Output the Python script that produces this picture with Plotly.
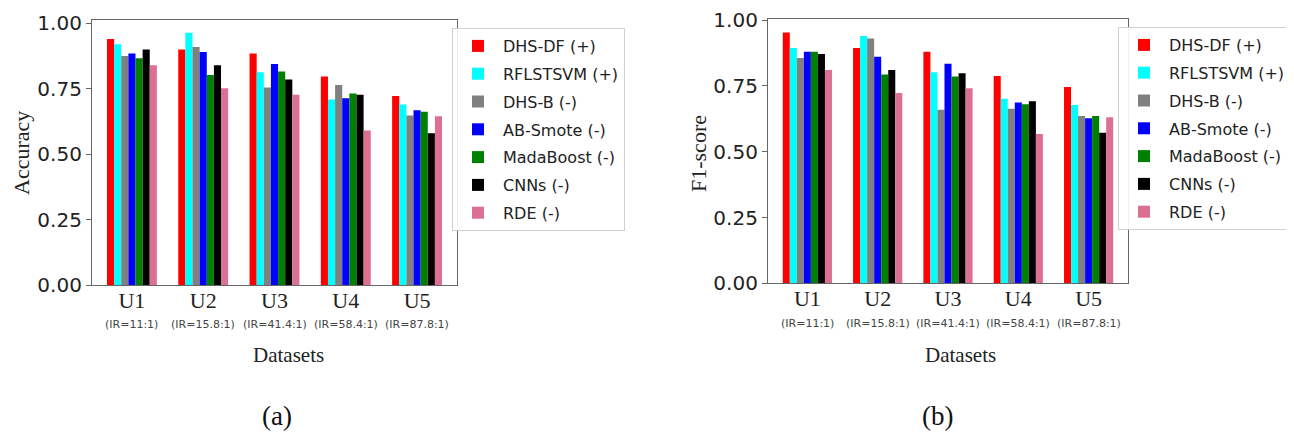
import plotly.graph_objects as go

# The page body has an 8px default margin; the figure is sized and placed to compensate.
OFF = 8
W, H = 1286, 426

datasets = ["U1", "U2", "U3", "U4", "U5"]
ir_labels = ["(IR=11:1)", "(IR=15.8:1)", "(IR=41.4:1)", "(IR=58.4:1)", "(IR=87.8:1)"]
methods = ["DHS-DF (+)", "RFLSTSVM (+)", "DHS-B (-)", "AB-Smote (-)", "MadaBoost (-)", "CNNs (-)", "RDE (-)"]
colors = ["#ff0000", "#00ffff", "#808080", "#0000ff", "#008000", "#000000", "#db7093"]

acc_dhs_df   = [0.940, 0.900, 0.885, 0.797, 0.722]
acc_rflstsvm = [0.920, 0.964, 0.813, 0.709, 0.690]
acc_dhs_b    = [0.875, 0.909, 0.755, 0.764, 0.648]
acc_ab_smote = [0.885, 0.890, 0.844, 0.714, 0.668]
acc_madaboost= [0.866, 0.802, 0.816, 0.732, 0.662]
acc_cnns     = [0.900, 0.840, 0.785, 0.727, 0.580]
acc_rde      = [0.840, 0.752, 0.727, 0.590, 0.645]

f1_dhs_df    = [0.953, 0.894, 0.880, 0.788, 0.746]
f1_rflstsvm  = [0.894, 0.940, 0.802, 0.701, 0.677]
f1_dhs_b     = [0.856, 0.930, 0.659, 0.663, 0.636]
f1_ab_smote  = [0.880, 0.861, 0.834, 0.687, 0.627]
f1_madaboost = [0.880, 0.793, 0.786, 0.680, 0.636]
f1_cnns      = [0.871, 0.810, 0.798, 0.692, 0.572]
f1_rde       = [0.810, 0.723, 0.741, 0.567, 0.631]

acc = [acc_dhs_df, acc_rflstsvm, acc_dhs_b, acc_ab_smote, acc_madaboost, acc_cnns, acc_rde]
f1 = [f1_dhs_df, f1_rflstsvm, f1_dhs_b, f1_ab_smote, f1_madaboost, f1_cnns, f1_rde]

yticks = [0.0, 0.25, 0.5, 0.75, 1.0]
ytick_text = ["0.00", "0.25", "0.50", "0.75", "1.00"]

fig = go.Figure()
for i, (name, col, vals) in enumerate(zip(methods, colors, acc)):
    fig.add_trace(go.Bar(x=datasets, y=vals, name=name, marker=dict(color=col, line=dict(width=0)),
                         xaxis="x", yaxis="y", legend="legend", legendgroup="a%d" % i))
for i, (name, col, vals) in enumerate(zip(methods, colors, f1)):
    fig.add_trace(go.Bar(x=datasets, y=vals, name=name, marker=dict(color=col, line=dict(width=0)),
                         xaxis="x2", yaxis="y2", legend="legend2", legendgroup="b%d" % i))

def px(x):
    return (x - OFF) / W

def py(y):
    return 1 - (y - OFF) / H

axis_line = dict(showline=True, linecolor="#666", linewidth=1.2, mirror=True, showgrid=False, zeroline=False)
serif = "Liberation Serif, Times New Roman, serif"
sans = "DejaVu Sans, sans-serif"

xcommon = dict(type="category", range=[-0.56, 4.56], ticks="", ticklabelstandoff=-5,
               tickfont=dict(family=serif, size=22, color="#222"), **axis_line)
ycommon = dict(tickvals=yticks, ticktext=ytick_text, ticks="outside", ticklen=5, tickcolor="#666",
               tickfont=dict(family=sans, size=20, color="#222"), **axis_line)

legend_common = dict(font=dict(family=sans, size=16, color="#222"), bgcolor="rgba(255,255,255,0.9)",
                     bordercolor="#d0d0d0", borderwidth=1, xanchor="left", yanchor="top", itemwidth=40,
                     traceorder="grouped", tracegroupgap=4)

fig.update_layout(
    width=W, height=H, margin=dict(l=0, r=0, t=0, b=0, autoexpand=False),
    paper_bgcolor="white", plot_bgcolor="white",
    barmode="group", bargap=0.30, bargroupgap=0,
    xaxis=dict(domain=[px(92), px(457)], anchor="y", **xcommon),
    yaxis=dict(domain=[py(285), py(20)], range=[0, 1.0126], anchor="x", **ycommon),
    xaxis2=dict(domain=[px(768), px(1128)], anchor="y2", **xcommon),
    yaxis2=dict(domain=[py(283.3), py(19.3)], range=[0, 1.003], anchor="x2", **ycommon),
    legend=dict(x=px(452), y=py(28), **legend_common),
    legend2=dict(x=px(1118), y=py(27), **legend_common),
    showlegend=True,
)

annotations = []
for xa, yline in (("x", 324), ("x2", 323)):
    for ds, ir in zip(datasets, ir_labels):
        annotations.append(dict(x=ds, y=py(yline), xref=xa, yref="paper", text=ir, showarrow=False,
                                font=dict(family=sans, size=11, color="#444"), xanchor="center", yanchor="middle"))

annotations += [
    dict(x=px(21), y=py(153), xref="paper", yref="paper", text="Accuracy", textangle=-90, showarrow=False,
         font=dict(family=serif, size=22, color="#222"), xanchor="center", yanchor="middle"),
    dict(x=px(698), y=py(154), xref="paper", yref="paper", text="F1-score", textangle=-90, showarrow=False,
         font=dict(family=serif, size=22, color="#222"), xanchor="center", yanchor="middle"),
    dict(x=px(288), y=py(355), xref="paper", yref="paper", text="Datasets", showarrow=False,
         font=dict(family=serif, size=21, color="#222"), xanchor="center", yanchor="middle"),
    dict(x=px(960), y=py(355), xref="paper", yref="paper", text="Datasets", showarrow=False,
         font=dict(family=serif, size=21, color="#222"), xanchor="center", yanchor="middle"),
    dict(x=px(277), y=py(416), xref="paper", yref="paper", text="(a)", showarrow=False,
         font=dict(family=serif, size=27, color="#111"), xanchor="center", yanchor="middle"),
    dict(x=px(937), y=py(416), xref="paper", yref="paper", text="(b)", showarrow=False,
         font=dict(family=serif, size=27, color="#111"), xanchor="center", yanchor="middle"),
]
fig.update_layout(annotations=annotations)

fig.write_html("out.html")
